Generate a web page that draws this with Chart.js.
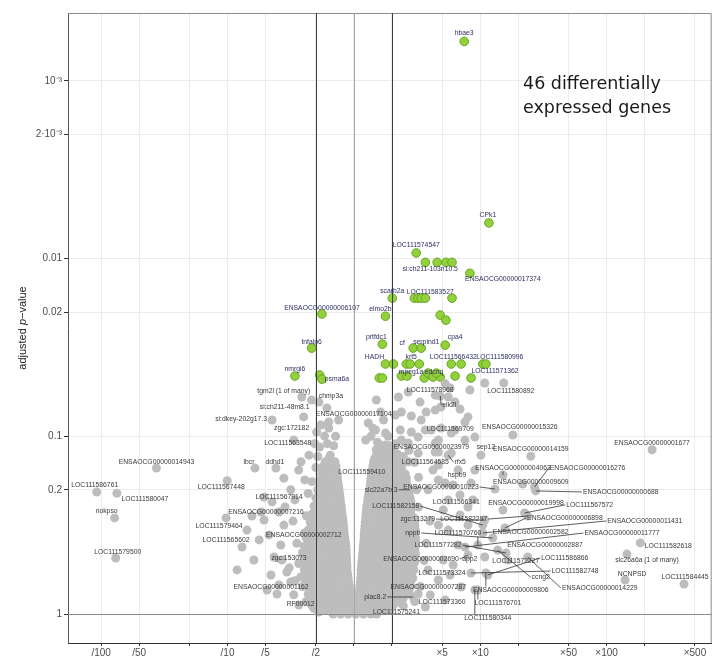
<!DOCTYPE html>
<html><head><meta charset="utf-8">
<style>html,body{margin:0;padding:0;background:#fff;}#wrap{width:717px;height:659px;}</style>
<script src="https://cdn.jsdelivr.net/npm/chart.js@4.4.0/dist/chart.umd.min.js"></script>
</head><body><div id="wrap"><canvas id="c" width="717" height="659"></canvas></div>
<script>
// ---------- DATA (log2 fold change, adjusted p-value) ----------
const xTickValues = [-6.644,-5.644,-4.322,-3.322,-2.322,-1,0,1,2.322,3.322,4.322,5.644,6.644,7.644,8.966];
const xTickLabels = ['/100','/50','','/10','/5','/2','','','×5','×10','','×50','×100','','×500'];
const yTickValues = [0.001,0.002,0.01,0.02,0.1,0.2,1];
const yTickLabels = ['10⁻³','2·10⁻³','0.01','0.02','0.1','0.2','1'];

// significant genes (padj < 0.05)
const sigFC = [2.90,3.55,1.64,1.88,2.19,2.42,2.58,3.05,1.01,1.59,1.69,1.77,1.88,2.58,-0.84,0.83,2.27,2.42,-1.11,0.75,1.56,1.77,2.40,0.83,1.04,1.38,1.48,1.72,2.56,2.82,3.39,3.47,3.08,-1.55,-0.90,-0.84,0.67,0.75,1.25,1.40,1.85,1.95,2.08,2.27,2.66,2.17];
const sigP  = [0.0006,0.0063,0.0093,0.0105,0.0105,0.0105,0.0105,0.0121,0.0167,0.0167,0.0167,0.0167,0.0167,0.0167,0.0205,0.0211,0.0208,0.0222,0.0319,0.0303,0.0319,0.0319,0.0307,0.0392,0.0392,0.0392,0.0392,0.0392,0.0392,0.0392,0.0392,0.0392,0.047,0.0458,0.0452,0.0477,0.047,0.047,0.0458,0.0458,0.047,0.0441,0.0464,0.0464,0.0458,0.0441];

// dense core of non-significant genes: one p-value per row, fold changes per row
const coreP = [1.0,0.95,0.901,0.856,0.813,0.772,0.733,0.696,0.661,0.627,0.596,0.565,0.537,0.51,0.484,0.46,0.437,0.414,0.393,0.373,0.355,0.337,0.32,0.304,0.288,0.274,0.26,0.247,0.234,0.222,0.211,0.2,0.19,0.181,0.172,0.163,0.155,0.147,0.139,0.133,0.126,0.119,0.113];
const coreFC = [
 [-0.55,-0.35,-0.15,0.05,0.25,0.45,0.6],
 [-0.75,-0.55,-0.35,-0.15,0.05,0.25,0.45,0.65,0.8],
 [-0.9,-0.7,-0.5,-0.3,-0.1,0.1,0.3,0.5,0.7,0.9],
 [-1.0,-0.8,-0.6,-0.4,-0.2,0,0.2,0.4,0.6,0.8,1.0,1.2],
 [-1.1,-0.9,-0.7,-0.5,-0.3,-0.1,0.1,0.3,0.5,0.7,0.9,1.1,1.3],
 [-1.2,-1.0,-0.8,-0.6,-0.4,-0.22,-0.08,0.12,0.3,0.5,0.7,0.9,1.1,1.3,1.45],
 [-1.15,-0.95,-0.75,-0.55,-0.38,-0.22,-0.1,0.15,0.3,0.5,0.7,0.9,1.1,1.3,1.45],
 [-1.25,-1.05,-0.85,-0.65,-0.48,-0.3,-0.12,0.16,0.32,0.5,0.7,0.9,1.1,1.3,1.5],
 [-1.2,-1.0,-0.8,-0.6,-0.42,-0.27,-0.14,0.17,0.32,0.5,0.7,0.9,1.1,1.3,1.48],
 [-1.3,-1.1,-0.9,-0.7,-0.52,-0.33,-0.15,0.18,0.35,0.55,0.75,0.95,1.15,1.35,1.55],
 [-1.2,-1.0,-0.8,-0.6,-0.42,-0.27,-0.16,0.19,0.35,0.55,0.75,0.95,1.15,1.35,1.52],
 [-1.3,-1.1,-0.9,-0.7,-0.52,-0.34,-0.18,0.19,0.36,0.56,0.76,0.96,1.16,1.36,1.58],
 [-1.2,-1.0,-0.8,-0.6,-0.43,-0.29,-0.18,0.2,0.36,0.56,0.76,0.96,1.16,1.36,1.55],
 [-1.32,-1.12,-0.92,-0.72,-0.53,-0.36,-0.19,0.21,0.38,0.58,0.78,0.98,1.18,1.38,1.6],
 [-1.22,-1.02,-0.82,-0.62,-0.44,-0.3,-0.19,0.22,0.38,0.58,0.78,0.98,1.18,1.38,1.58],
 [-1.35,-1.15,-0.95,-0.75,-0.55,-0.37,-0.2,0.23,0.4,0.6,0.8,1.0,1.2,1.4,1.62],
 [-1.25,-1.05,-0.85,-0.65,-0.45,-0.3,-0.2,0.24,0.4,0.6,0.8,1.0,1.2,1.4,1.6],
 [-1.3,-1.1,-0.9,-0.7,-0.52,-0.36,-0.21,0.25,0.42,0.62,0.82,1.02,1.22,1.42,1.62],
 [-1.2,-1.0,-0.8,-0.6,-0.42,-0.22,0.26,0.42,0.62,0.82,1.02,1.22,1.42,1.62],
 [-1.25,-1.05,-0.85,-0.65,-0.47,-0.24,0.27,0.45,0.65,0.85,1.05,1.25,1.45,1.62],
 [-1.15,-0.95,-0.75,-0.55,-0.4,-0.25,0.27,0.45,0.65,0.85,1.05,1.25,1.45,1.6],
 [-1.2,-1.0,-0.8,-0.6,-0.42,-0.26,0.28,0.46,0.66,0.86,1.06,1.26,1.46,1.62],
 [-1.1,-0.9,-0.7,-0.5,-0.27,0.29,0.46,0.66,0.86,1.06,1.26,1.46,1.6],
 [-1.15,-0.95,-0.75,-0.55,-0.4,-0.28,0.3,0.48,0.68,0.88,1.08,1.28,1.48,1.6],
 [-1.05,-0.85,-0.65,-0.46,-0.29,0.31,0.48,0.68,0.88,1.08,1.28,1.48,1.58],
 [-1.1,-0.9,-0.7,-0.5,-0.31,0.32,0.5,0.7,0.9,1.1,1.3,1.5],
 [-1.0,-0.8,-0.6,-0.45,-0.32,0.33,0.5,0.7,0.9,1.1,1.3,1.5],
 [-1.05,-0.85,-0.65,-0.48,-0.33,0.34,0.52,0.72,0.92,1.12,1.32,1.5],
 [-0.95,-0.75,-0.55,-0.35,0.36,0.52,0.72,0.92,1.12,1.32,1.5],
 [-1.0,-0.8,-0.6,-0.36,0.37,0.55,0.75,0.95,1.15,1.35,1.48],
 [-0.9,-0.7,-0.52,-0.37,0.39,0.56,0.76,0.96,1.16,1.36,1.45],
 [-0.95,-0.75,-0.57,-0.39,0.42,0.6,0.8,1.0,1.2,1.4],
 [-0.88,-0.7,-0.54,-0.4,0.43,0.6,0.8,1.0,1.2,1.4],
 [-0.92,-0.75,-0.58,-0.42,0.44,0.62,0.82,1.02,1.22,1.38],
 [-0.85,-0.66,-0.43,0.45,0.62,0.82,1.02,1.22,1.38],
 [-0.85,-0.65,-0.44,0.46,0.65,0.85,1.05,1.25,1.35],
 [-0.8,-0.62,-0.46,0.48,0.66,0.86,1.06,1.26],
 [-0.8,-0.63,-0.47,0.5,0.68,0.88,1.08,1.25],
 [-0.75,-0.5,0.52,0.7,0.9,1.1,1.2],
 [-0.65,0.55,0.75,0.95,1.15],
 [0.6,0.8,1.0,1.15],
 [0.65,0.85,1.05],
 [0.7,0.95]
];

// scattered non-significant genes [log2FC, padj]
const grayScatter = [
 [-5.19,0.151],[-6.76,0.206],[-6.23,0.209],[-6.29,0.288],[-6.26,0.484],[-3.33,0.178],[-2.60,0.151],[-2.05,0.151],
 [-2.15,0.234],[-2.68,0.281],[-2.44,0.267],[-3.36,0.288],[-2.94,0.42],[-2.10,0.478],[-2.02,0.772],[-1.11,0.89],
 [-1.37,0.0601],[-1.11,0.0625],[-1.32,0.0778],[-2.15,0.081],[-1.03,0.11],[-0.98,0.0946],[-0.66,0.0899],[-0.92,0.0642],
 [-0.66,0.0831],[-0.5,0.155],[-2.36,0.296],[-2.49,0.383],[-2.23,0.359],[-1.92,0.409],[-1.84,0.316],[-1.89,0.497],
 [-1.76,0.58],[-1.66,0.66],[-1.97,0.686],[-1.45,0.155],[-1.29,0.176],[-1.66,0.2],[-1.55,0.228],[-1.81,0.25],
 [-1.97,0.267],[-0.87,0.0864],[-0.77,0.0997],[-0.53,0.113],[-1.18,0.1277],[-1.39,0.139],[-1.58,0.78],[-1.45,0.89],
 [-0.92,0.974],[-2.28,0.733],[-2.18,0.603],[-2.63,0.497],[-2.81,0.337],[-3.07,0.565],[-2.36,0.22],[-1.84,0.172],
 [-1.58,0.105],[-0.62,0.1277],[-0.71,0.0693],[-0.40,0.081],[-1.35,0.45],[-1.45,0.52],[-1.4,0.62],[-1.3,0.35],
 [-1.25,0.28],[-1.35,0.7],[-1.25,0.85],[-1.5,0.4],[-1.2,0.21],[-1.1,0.18],[-1.0,0.15],[-0.95,0.13],[-0.9,0.115],
 [-1.6,0.3],[-1.7,0.55],[-1.55,0.65],[-0.8,0.95],[-1.05,0.93],[-0.7,0.11],[-0.48,0.1],
 [0.59,0.0625],[0.70,0.073],[0.78,0.081],[1.09,0.0759],[1.25,0.073],[1.51,0.0769],[1.77,0.081],[1.90,0.073],
 [2.14,0.0712],[2.29,0.0684],[2.48,0.0601],[2.66,0.0642],[2.79,0.0702],[3.00,0.0778],[0.57,0.0922],[0.83,0.0959],
 [1.22,0.0922],[1.51,0.0946],[1.88,0.0922],[2.29,0.0899],[2.66,0.0922],[3.18,0.101],[2.92,0.105],[2.14,0.109],
 [1.43,0.109],[0.83,0.112],[0.59,0.119],[0.38,0.0842],[0.31,0.105],[1.17,0.0601],[1.43,0.0563],[1.74,0.0642],
 [2.14,0.0587],[2.53,0.0535],[3.05,0.0549],[3.44,0.0501],[2.40,0.0505],[2.27,0.0593],[3.94,0.0501],[4.18,0.0984],
 [2.22,0.105],[3.34,0.1277],[4.65,0.1294],[7.84,0.119],[2.48,0.1277],[1.43,0.139],[2.74,0.155],[3.92,0.165],
 [4.75,0.193],[4.78,0.203],[3.71,0.198],[2.48,0.228],[3.92,0.26],[4.49,0.27],[3.39,0.316],[4.57,0.281],
 [3.97,0.328],[3.39,0.35],[3.65,0.3735],[3.26,0.409],[3.78,0.437],[4.00,0.454],[3.00,0.466],[4.05,0.497],
 [7.53,0.398],[7.18,0.46],[7.13,0.644],[8.68,0.678],[3.47,0.588],[3.26,0.733],[3.18,0.733],[1.95,0.565],
 [1.43,0.733],[1.56,0.802],[1.69,0.772],[1.04,0.89],[1.48,0.2],[2.22,0.1226],[2.92,0.0831],[1.69,0.101],
 [2.03,0.0922],[2.56,0.0959],[1.69,0.1244],[2.14,0.1226],[2.56,0.1244],[3.18,0.155],[3.08,0.1834],[2.40,0.1834],
 [2.79,0.2139],[3.00,0.25],[3.44,0.296],[2.92,0.42],[3.44,0.478],[3.08,0.588],[3.52,0.603],[2.82,0.705],
 [2.40,0.834],[1.88,0.913],[2.08,0.155],[2.22,0.176],[2.35,0.26],[2.22,0.316],[2.48,0.337],[2.35,0.497],
 [2.61,0.53],[2.22,0.644],[2.01,0.782],[2.53,0.603],[2.74,0.409],[3.00,0.316],[2.79,0.277],[3.13,0.228],
 [2.61,0.188],[1.95,0.2],[2.22,0.145],[0.45,0.1],[0.62,0.108],[0.78,0.136],[1.04,0.119],[4.44,0.1855],
 [4.57,0.478],[1.6,0.85],[1.3,0.9],[0.95,0.95],[1.75,0.7],[1.85,0.5],[1.9,0.4],[2.0,0.3],[1.7,0.25],
 [1.65,0.2],[1.7,0.17],[1.6,0.14],[1.45,0.12],[1.25,0.105],[0.9,0.1],[1.1,0.11],[1.3,0.13],[0.5,0.09]
];

// gene labels: [name, log2FC, padj]
const labelData = [
 ['hbae3',2.90,0.0006],['CPk1',3.55,0.0063],['LOC111574547',1.64,0.0093],['si:ch211-103n10.5',2.19,0.0105],
 ['ENSAOCG00000017374',3.05,0.0121],['scarb2a',1.01,0.0167],['LOC111583527',1.77,0.0167],['ENSAOCG00000006107',-0.84,0.0205],
 ['elmo2b',0.83,0.0211],['tnfaip6',-1.11,0.0319],['prtfdc1',0.75,0.0303],['cf',1.56,0.0319],['serpind1',1.77,0.0319],
 ['cpa4',2.40,0.0307],['HADH',0.83,0.0392],['krt5',1.48,0.0392],['LOC111566432',2.56,0.0392],['LOC111580996',3.47,0.0392],
 ['LOC111571362',3.08,0.047],['nmrgi6',-1.55,0.0458],['psma6a',-0.84,0.0477],['mpeg1a',1.40,0.0458],['edcnq',2.08,0.0464],
 ['tgm2l (1 of many)',-1.37,0.0601],['chmp3a',-0.92,0.0642],['si:ch211-48m8.1',-1.32,0.0778],['si:dkey-202g17.3',-2.15,0.081],
 ['zgc:172182',-0.98,0.0946],['ENSAOCG00000017104',-0.40,0.081],['LOC111563548',-1.03,0.11],['ENSAOCG00000014943',-5.19,0.151],
 ['lbcr',-2.60,0.151],['ddhd1',-2.05,0.151],['LOC111586761',-6.76,0.206],['LOC111580047',-6.23,0.209],['nokpso',-6.29,0.288],
 ['LOC111579500',-6.26,0.484],['LOC111567448',-3.33,0.178],['LOC111567914',-2.15,0.234],['ENSAOCG00000007216',-2.68,0.281],
 ['LOC111579464',-3.36,0.288],['LOC111565602',-2.94,0.42],['ENSAOCG00000002712',-1.92,0.409],['zgc:153073',-2.10,0.478],
 ['ENSAOCG00000001162',-2.02,0.772],['RF00012',-1.11,0.89],['LOC111559410',-0.5,0.155],['LOC111578968',2.40,0.0505],
 ['elk2l',2.27,0.0593],['LOC111580892',3.94,0.0501],['LOC111569709',2.22,0.105],['ENSAOCG00000015326',4.18,0.0984],
 ['ENSAOCG00000023979',2.22,0.1226],['sep12',3.34,0.1277],['ENSAOCG00000014159',4.65,0.1294],['ENSAOCG00000001677',7.84,0.119],
 ['LOC111564585',1.43,0.139],['rfx5',2.48,0.1277],['hspb9',2.74,0.155],['ENSAOCG00000004063',3.92,0.165],
 ['ENSAOCG00000016276',4.75,0.193],['ENSAOCG00000009609',4.44,0.1855],['ENSAOCG00000000688',4.78,0.203],['slc22a7b.3',1.48,0.2],
 ['ENSAOCG00000010223',3.71,0.198],['LOC111582158',3.39,0.316],['LOC111566341',2.48,0.228],['ENSAOCG00000019998',3.92,0.26],
 ['LOC111567572',4.49,0.27],['zgc:113279',3.44,0.296],['LOC111582297',4.57,0.281],['ENSAOCG00000006898',3.97,0.328],
 ['ENSAOCG00000011431',3.39,0.35],['nppb',3.65,0.3735],['LOC111570760',3.26,0.409],['ENSAOCG00000002582',3.78,0.437],
 ['ENSAOCG00000011777',2.92,0.42],['LOC111577282',4.00,0.454],['ENSAOCG00000002887',4.05,0.497],['LOC111582618',7.53,0.398],
 ['ENSAOCG00000002690',3.00,0.466],['app2',3.44,0.478],['LOC111572227',3.47,0.588],['LOC111586866',3.52,0.603],
 ['slc26a6a (1 of many)',7.18,0.46],['LOC111582748',3.08,0.588],['ccng2',3.78,0.437],['NCNPSD',7.13,0.644],
 ['LOC111584445',8.68,0.678],['ENSAOCG00000014229',4.57,0.478],['LOC111573324',1.95,0.565],['ENSAOCG00000007287',1.43,0.733],
 ['ENSAOCG00000009806',3.47,0.588],['plac8.2',1.56,0.802],['LOC111573360',1.69,0.772],['LOC111576701',3.26,0.733],
 ['LOC111580344',3.18,0.733],['LOC111575241',1.04,0.89]
];
// label placement relative to its point: [dx px, dy px, leader line]
const labelLayout = [
 [0,-8,0],[-1,-8,0],[0,-8,0],[-7,7,0],[33,6,0],[0,-7,0],[9,-6,0],[0,-6,0],
 [-5,-7,0],[0,-6,0],[-6,-7,0],[-11,-5,0],[5,-6,0],[10,-8,0],[-11,-7,0],[1,-7,0],[2,-7,0],[14,-7,0],
 [24,-7,0],[0,-7,0],[15,0,0],[4,-4,0],[1,-5,0],
 [-18,-6,0],[12,-6,0],[-19,-10,0],[-31,-1,0],[-25,-4,0],[15,-6,0],[-27,-1,0],[0,-6,0],
 [-6,-6,0],[-1,-6,0],[-2,-7,0],[28,6,0],[-8,-7,0],[2,-6,0],[-6,6,0],[7,-5,0],[14,-4,0],
 [-7,8,0],[-16,-7,0],[23,-10,0],[15,1,0],[-6,-7,0],[-11,-1,0],[27,2,0],[-15,7,0],
 [9,9,1],[7,8,0],[12,-11,0],[7,-8,0],[-7,-5,0],[5,-8,0],[0,-7,0],[0,-7,0],
 [17,0,0],[12,7,1],[-1,5,0],[10,-7,1],[53,-19,1],[8,-2,0],[85,1,1],[-29,0,1],
 [-54,-2,1],[-87,-19,1],[8,2,0],[23,-7,0],[65,-8,1],[-67,-1,1],[-64,3,1],[60,-10,1],
 [162,-12,1],[-80,-5,1],[-20,-12,1],[33,-18,0],[157,-14,1],[-68,-8,1],[37,-15,0],[28,3,0],
 [-47,4,1],[-15,2,0],[30,-12,0],[77,-17,1],[20,6,0],[104,-2,1],[43,27,1],[7,-6,0],
 [1,-7,0],[72,31,1],[14,3,0],[20,-3,0],[25,17,1],[-38,0,1],[24,8,0],[20,13,1],
 [13,28,1],[3,7,0]
];

// ---------- build datasets ----------
const grayPts = [];
coreP.forEach((p,i)=>coreFC[i].forEach(fc=>grayPts.push({x:fc,y:p})));
grayScatter.forEach(d=>grayPts.push({x:d[0],y:d[1]}));
const greenPts = sigFC.map((fc,i)=>({x:fc,y:sigP[i]}));

const overlay = {
  id:'overlay',
  afterDatasetsDraw(chart){
    const {ctx, chartArea:a, scales:{x,y}} = chart;
    ctx.save();
    ctx.strokeStyle='#8c8c8c'; ctx.lineWidth=1;
    ctx.beginPath(); ctx.moveTo(a.left,a.top+0.5); ctx.lineTo(a.right-0.5,a.top+0.5); ctx.lineTo(a.right-0.5,a.bottom); ctx.stroke();
    const vline=(v,c)=>{const px=Math.round(x.getPixelForValue(v))+0.5;ctx.strokeStyle=c;ctx.beginPath();ctx.moveTo(px,a.top);ctx.lineTo(px,a.bottom);ctx.stroke();};
    vline(0,'#a6a6a6'); vline(-1,'#3c3c3c'); vline(1,'#3c3c3c');
    const hy=Math.round(y.getPixelForValue(1))+0.5;
    ctx.strokeStyle='#8c8c8c'; ctx.beginPath(); ctx.moveTo(a.left,hy); ctx.lineTo(a.right,hy); ctx.stroke();
    ctx.font="6.8px 'Liberation Sans', Arial, sans-serif";
    ctx.textAlign='center'; ctx.textBaseline='middle';
    labelData.forEach((d,i)=>{
      const L=labelLayout[i]; const px=x.getPixelForValue(d[1]), py=y.getPixelForValue(d[2]);
      const lx=px+L[0], ly=py+L[1];
      const w=ctx.measureText(d[0]).width;
      if(L[2]){
        let sx,sy;
        if(px>lx+w/2){sx=lx+w/2+1;sy=ly;}
        else if(px<lx-w/2){sx=lx-w/2-1;sy=ly;}
        else {sx=px;sy=py>ly?ly+3.5:ly-3.5;}
        ctx.strokeStyle='#333'; ctx.lineWidth=0.8;
        ctx.beginPath(); ctx.moveTo(sx,sy); ctx.lineTo(px,py); ctx.stroke();
      }
      ctx.fillStyle = d[2]<0.05 ? '#2e2e62' : '#3a3a3a';
      ctx.fillText(d[0],lx,ly);
    });
    ctx.fillStyle='#1a1a1a'; ctx.textAlign='left'; ctx.textBaseline='alphabetic';
    ctx.font="17.5px 'DejaVu Sans', sans-serif";
    ctx.fillText('46 differentially',523,89);
    ctx.fillText('expressed genes',523,113);
    ctx.translate(23,(a.top+a.bottom)/2); ctx.rotate(-Math.PI/2);
    ctx.font="11px 'Liberation Sans', Arial, sans-serif"; ctx.fillStyle='#1a1a1a'; ctx.textBaseline='middle';
    const t1='adjusted ', t2='p', t3='−value';
    const w1=ctx.measureText(t1).width, w3=ctx.measureText(t3).width;
    ctx.font="italic 11px 'Liberation Sans', Arial, sans-serif"; const w2=ctx.measureText(t2).width;
    let sx=-(w1+w2+w3)/2;
    ctx.font="11px 'Liberation Sans', Arial, sans-serif"; ctx.fillText(t1,sx,0);
    ctx.font="italic 11px 'Liberation Sans', Arial, sans-serif"; ctx.fillText(t2,sx+w1,0);
    ctx.font="11px 'Liberation Sans', Arial, sans-serif"; ctx.fillText(t3,sx+w1+w2,0);
    ctx.restore();
  }
};

new Chart(document.getElementById('c'),{
  type:'scatter',
  data:{datasets:[
    {data:grayPts,pointRadius:4.5,pointHoverRadius:4.5,backgroundColor:'#bdbdbd',borderWidth:0},
    {data:greenPts,pointRadius:4.3,pointHoverRadius:4.3,backgroundColor:'#93d13c',borderColor:'#65a522',borderWidth:1}
  ]},
  options:{
    responsive:false, animation:false, devicePixelRatio:1,
    layout:{padding:{top:13,right:2,left:0,bottom:0}},
    plugins:{legend:{display:false},tooltip:{enabled:false}},
    scales:{
      x:{type:'linear',min:-7.515,max:9.407,
        afterBuildTicks:s=>{s.ticks=xTickValues.map(v=>({value:v}));},
        afterFit:s=>{s.height=16;},
        ticks:{autoSkip:false,maxRotation:0,padding:1,color:'#4d4d4d',font:{size:10,family:"'Liberation Sans', Arial"},callback:(v,i)=>xTickLabels[i]},
        grid:{color:'#ebebeb',tickColor:'#333',tickLength:3},
        border:{display:true,color:'#333'}},
      y:{type:'logarithmic',reverse:true,min:0.000415,max:1.456,
        afterBuildTicks:s=>{s.ticks=yTickValues.map(v=>({value:v}));},
        afterFit:s=>{s.width=68;},
        ticks:{autoSkip:false,padding:2,color:'#4d4d4d',font:{size:10,family:"'Liberation Sans', Arial"},callback:(v,i)=>yTickLabels[i]},
        grid:{color:'#ebebeb',tickColor:'#333',tickLength:4},
        border:{display:true,color:'#555'}}
    }
  },
  plugins:[overlay]
});
</script></body></html>
